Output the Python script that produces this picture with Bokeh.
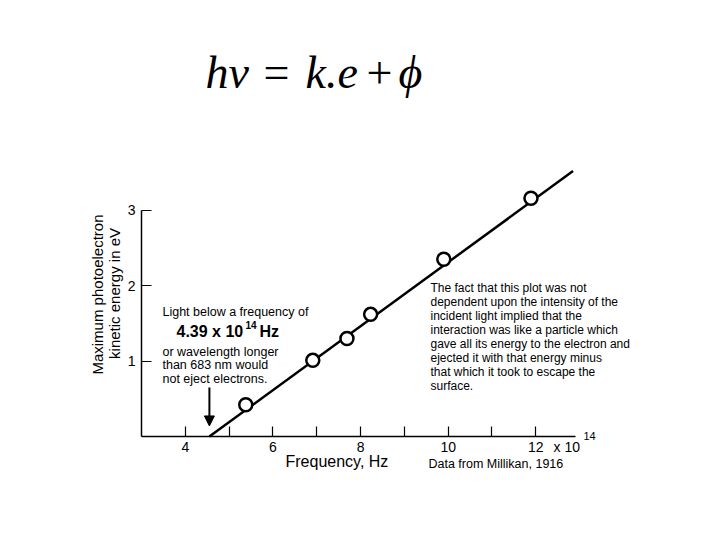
import math
from bokeh.plotting import figure
from bokeh.models import Range1d, FixedTicker, Label, Arrow, NormalHead
from bokeh.embed import file_html
from bokeh.resources import INLINE

# ---- data ----
freq = [5.38, 6.91, 7.69, 8.23, 9.90, 11.89]          # x 10^14 Hz
energy = [0.42, 1.01, 1.30, 1.62, 2.35, 3.16]         # eV
fit_freq = [4.55, 12.85]
fit_energy = [0.0, 3.52]
threshold_freq = 4.55
x_major = [4, 6, 8, 10, 12]
x_minor = [5, 7, 9, 11]
y_major = [1, 2, 3]

right_note = [
    "The fact that this plot was not",
    "dependent upon the intensity of the",
    "incident light implied that the",
    "interaction was like a particle which",
    "gave all its energy to the electron and",
    "ejected it with that energy minus",
    "that which it took to escape the",
    "surface.",
]

FONT = "Liberation Sans"

p = figure(width=704, height=524, output_backend="svg", toolbar_location=None,
           title=None,
           x_range=Range1d(-0.2184, 15.851), y_range=Range1d(-1.1671, 5.7825),
           min_border_left=0, min_border_right=0,
           min_border_top=0, min_border_bottom=0)
p.outline_line_color = None
p.xgrid.visible = False
p.ygrid.visible = False
p.background_fill_color = "white"
p.border_fill_color = "white"

xa = p.xaxis[0]
xa.fixed_location = 0
xa.bounds = (3.0, 12.9)
xa.ticker = FixedTicker(ticks=x_major, minor_ticks=x_minor)
xa.major_tick_in = 10
xa.major_tick_out = 0
xa.minor_tick_in = 10
xa.minor_tick_out = 0
xa.axis_line_width = 1.5
xa.major_tick_line_width = 1.2
xa.minor_tick_line_width = 1.2
xa.major_label_text_font = FONT
xa.major_label_text_font_size = "14px"
xa.major_label_text_color = "black"
xa.major_label_standoff = 5

ya = p.yaxis[0]
ya.fixed_location = 3.0
ya.bounds = (0, 3)
ya.ticker = FixedTicker(ticks=y_major, minor_ticks=[])
ya.major_tick_in = 10
ya.major_tick_out = 0
ya.minor_tick_in = 0
ya.minor_tick_out = 0
ya.axis_line_width = 1.5
ya.major_tick_line_width = 1.2
ya.major_label_text_font = FONT
ya.major_label_text_font_size = "14px"
ya.major_label_text_color = "black"
ya.major_label_standoff = 6

p.line(fit_freq, fit_energy, line_width=2.5, line_color="black")
p.scatter(freq, energy, size=13, fill_color="white", line_color="black", line_width=2.5)

p.add_layout(Arrow(end=NormalHead(size=10, fill_color="black", line_color="black"),
                   x_start=threshold_freq, y_start=0.65,
                   x_end=threshold_freq, y_end=0.14,
                   line_width=2, line_color="black"))


def lab(text, x, y, size="12px", style="normal", font=FONT, align="left",
        baseline="middle", angle=0.0):
    p.add_layout(Label(x=x, y=y, text=text, text_font=font, text_font_size=size,
                       text_font_style=style, text_color="black", text_align=align,
                       text_baseline=baseline, angle=angle))


# equation
EQ = "Liberation Serif"
EQY = 4.834
lab("h\u03bd", 4.461, EQY, "46px", "italic", EQ)
lab("=", 5.785, EQY, "46px", "normal", EQ)
lab("k.e", 6.743, EQY, "46px", "italic", EQ)
lab("+", 8.136, EQY, "46px", "normal", EQ)
lab("\u03d5", 8.866, EQY, "46px", "italic", EQ)

# y-axis title (two lines)
lab("Maximum photoelectron", 1.996, 1.883, "15px", align="center", angle=math.pi / 2)
lab("kinetic energy in eV", 2.381, 1.897, "15px", align="center", angle=math.pi / 2)

# left note
lab("Light below a frequency of", 3.479, 1.645, "12.5px")
lab("4.39 x 10", 3.799, 1.393, "16px", "bold")
lab("14", 5.374, 1.485, "10px", "bold")
lab("Hz", 5.693, 1.393, "16px", "bold")
lab("or wavelength longer", 3.479, 1.127, "12.5px")
lab("than 683 nm would", 3.479, 0.942, "12.5px")
lab("not eject electrons.", 3.479, 0.756, "12.5px")

# right note
for i, t in enumerate(right_note):
    lab(t, 9.597, 1.963 - i * 0.1855, "12px")

# below axis
lab("Frequency, Hz", 6.287, -0.332, "16px")
lab("Data from Millikan, 1916", 9.551, -0.371, "12.5px")
lab("x 10", 12.404, -0.133, "14px")
lab("14", 13.089, 0.013, "11px")

open("out.html", "w").write(file_html(p, INLINE))
